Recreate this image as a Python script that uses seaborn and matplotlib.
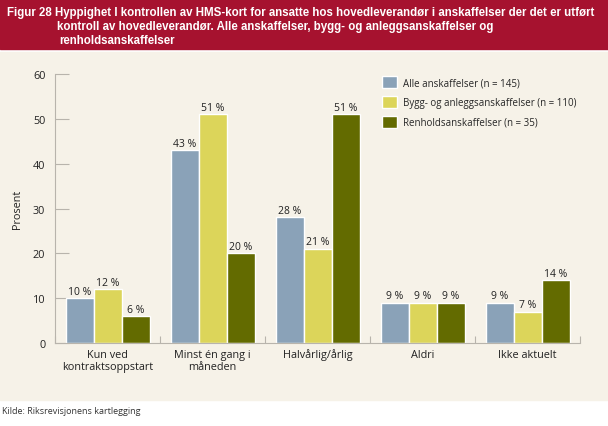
import matplotlib.pyplot as plt
import matplotlib.patches as mpatches
import numpy as np
import pandas as pd
import seaborn as sns

categories = ["Kun ved\nkontraktsoppstart", "Minst én gang i\nmåneden",
              "Halvårlig/årlig", "Aldri", "Ikke aktuelt"]
series = ["Alle anskaffelser (n = 145)",
          "Bygg- og anleggsanskaffelser (n = 110)",
          "Renholdsanskaffelser (n = 35)"]
alle = [10, 43, 28, 9, 9]
bygg = [12, 51, 21, 9, 7]
renhold = [6, 20, 51, 9, 14]
palette = ["#8aa2b8", "#dcd55a", "#636b00"]

BG = "#f6f2e8"
BANNER = "#a6122f"
AXIS_GREY = "#b8b4ac"

df = pd.DataFrame({
    "kategori": categories * 3,
    "serie": np.repeat(series, len(categories)),
    "verdi": alle + bygg + renhold,
})

sns.set_style("white")
plt.rcParams["font.family"] = ["Open Sans", "DejaVu Sans"]

fig = plt.figure(figsize=(6.08, 4.27), dpi=100)
fig.patch.set_facecolor("white")

# title banner and beige panel behind everything
fig.patches.append(mpatches.Rectangle((0, 1 - 50 / 427), 1, 50 / 427,
                                      transform=fig.transFigure, color=BANNER, zorder=-10))
fig.patches.append(mpatches.Rectangle((0, 1 - 401 / 427), 1, (401 - 53) / 427,
                                      transform=fig.transFigure, color=BG, zorder=-10))

ax = fig.add_axes([55 / 608, 1 - 344 / 427, (580 - 55) / 608, (344 - 75) / 427])
ax.set_facecolor(BG)
ax.set_zorder(1)

sns.barplot(data=df, x="kategori", y="verdi", hue="serie", order=categories,
            hue_order=series, palette=palette, width=0.8, edgecolor="white",
            linewidth=1, saturation=1, ax=ax)

for container in ax.containers:
    ax.bar_label(container, fmt="%d %%", padding=1, fontsize=7.5, color="#222222")

ax.set_ylim(0, 60)
ax.set_yticks(range(0, 61, 10))
ax.set_xlim(-0.5, len(categories) - 0.5)
ax.set_xticks(np.arange(-0.5, len(categories)), minor=True)
ax.tick_params(axis="x", which="major", bottom=False, length=0, labelsize=7.8, pad=4,
               colors="#222222")
ax.tick_params(axis="x", which="minor", bottom=True, direction="in", length=5,
               color=AXIS_GREY, width=0.8)
ax.tick_params(axis="y", left=True, direction="in", length=10, color=AXIS_GREY, width=0.8,
               labelsize=7.8, pad=7, labelcolor="#222222")
ax.set_xlabel("")
ax.set_ylabel("Prosent", fontsize=7.8, color="#222222", labelpad=7)

for side in ["top", "right"]:
    ax.spines[side].set_visible(False)
for side in ["left", "bottom"]:
    ax.spines[side].set_color(AXIS_GREY)
    ax.spines[side].set_linewidth(0.8)

ax.legend(loc="upper left", bbox_to_anchor=(0.607, 1.025), frameon=False, fontsize=7.0,
          handlelength=1.5, handleheight=1.5, handletextpad=0.6, labelspacing=0.8)

title_font = ["Liberation Sans", "DejaVu Sans"]
fig.text(7 / 608, 1 - 13 / 427,
         "Figur 28 Hyppighet I kontrollen av HMS-kort for ansatte hos hovedleverandør i anskaffelser der det er utført",
         color="white", fontsize=8.3, fontweight="bold", family=title_font, va="center")
fig.text(57 / 608, 1 - 27 / 427,
         "kontroll av hovedleverandør. Alle anskaffelser, bygg- og anleggsanskaffelser og",
         color="white", fontsize=8.3, fontweight="bold", family=title_font, va="center")
fig.text(59 / 608, 1 - 41 / 427, "renholdsanskaffelser",
         color="white", fontsize=8.3, fontweight="bold", family=title_font, va="center")

fig.text(2 / 608, 1 - 412 / 427, "Kilde: Riksrevisjonens kartlegging",
         fontsize=6.5, color="#333333", va="center")

fig.savefig("out.png", dpi=100, facecolor=fig.get_facecolor())
